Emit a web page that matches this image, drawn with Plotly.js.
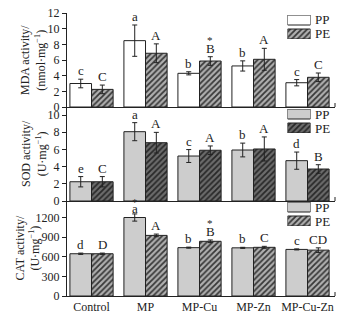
<!DOCTYPE html>
<html><head><meta charset="utf-8">
<script src="https://cdn.plot.ly/plotly-3.0.1.min.js"></script>
<style>html,body{margin:0;padding:0;background:#fff}#chart{width:344px;height:319px}</style>
</head><body><div id="chart"></div>
<script>
const categories = ['Control','MP','MP-Cu','MP-Zn','MP-Cu-Zn'];
const seriesNames = ['PP','PE'];

const mdaPP = [3.0, 8.47, 4.3, 5.24, 3.1];
const mdaPPerr = [0.55, 2.0, 0.2, 0.65, 0.4];
const mdaPE = [2.25, 6.86, 5.87, 6.09, 3.79];
const mdaPEerr = [0.55, 1.2, 0.55, 1.4, 0.55];

const sodPP = [2.24, 8.06, 5.23, 5.93, 4.69];
const sodPPerr = [0.6, 1.05, 0.75, 0.8, 1.0];
const sodPE = [2.24, 6.78, 5.9, 6.05, 3.72];
const sodPEerr = [0.6, 1.2, 0.5, 1.4, 0.5];

const catPP = [645, 1198, 738, 735, 711];
const catPPerr = [10, 55, 8, 8, 8];
const catPE = [645, 925, 835, 743, 700];
const catPEerr = [10, 20, 20, 15, 35];

const mdaPPlab = ['c','a','b','b','c'];
const mdaPElab = ['C','A','B','A','C'];
const sodPPlab = ['e','a','c','b','d'];
const sodPElab = ['C','A','A','A','B'];
const catPPlab = ['d','a','b','b','c'];
const catPElab = ['D','A','B','C','CD'];

const mdaPPstar = ['','','','',''];
const mdaPEstar = ['','','*','',''];
const sodPPstar = ['','','','',''];
const sodPEstar = ['','','','',''];
const catPPstar = ['','*','','',''];
const catPEstar = ['','','*','',''];

const yTitles = ['MDA activity/<br>(nmol·mg<sup>−1</sup>)', 'SOD activity/<br>(U·mg<sup>−1</sup>)', 'CAT activity/<br>(U·mg<sup>−1</sup>)'];

const FONT = 'Liberation Serif, Times New Roman, serif';
const INK = '#222';

const panels = [
  {pp: mdaPP, ppe: mdaPPerr, pe: mdaPE, pee: mdaPEerr, ppl: mdaPPlab, pel: mdaPElab, pps: mdaPPstar, pes: mdaPEstar,
   ppColor: '#ffffff', peBg: '#b0b0b0', peFg: '#383838'},
  {pp: sodPP, ppe: sodPPerr, pe: sodPE, pee: sodPEerr, ppl: sodPPlab, pel: sodPElab, pps: sodPPstar, pes: sodPEstar,
   ppColor: '#cdcdcd', peBg: '#6c6c6c', peFg: '#282828'},
  {pp: catPP, ppe: catPPerr, pe: catPE, pee: catPEerr, ppl: catPPlab, pel: catPElab, pps: catPPstar, pes: catPEstar,
   ppColor: '#cdcdcd', peBg: '#b0b0b0', peFg: '#383838'}
];

// pixel layout helpers
const W = 344, H = 319, L = 67, R = 335, T = 13, B = 296;
const py = p => (B - p) / (B - T);
const px = p => (p - L) / (R - L);
const domains = [[py(107), 1], [py(201), py(107)], [0, py(201)]];
const ranges = [[0, 12], [0, 10.93], [0, 1450]];
const dticks = [2, 2, 300];
const legendTops = [15, 109, 202];
const titleShift = [-34, -33, -40];

const traces = [];
const annotations = [];
const shapes = [];
const layout = {
  width: W, height: H,
  margin: {l: L, r: W - R, t: T, b: H - B, pad: 0},
  paper_bgcolor: '#fff', plot_bgcolor: 'rgba(0,0,0,0)',
  font: {family: FONT, size: 12, color: INK},
  barmode: 'group', bargap: 0.2, bargroupgap: 0,
  showlegend: false
};

panels.forEach((p, k) => {
  const n = k + 1;
  const xa = n === 1 ? 'x' : 'x' + n;
  const ya = n === 1 ? 'y' : 'y' + n;
  const outline = {color: INK, width: 1};
  traces.push({
    type: 'bar', name: seriesNames[0], x: categories, y: p.pp, xaxis: xa, yaxis: ya,
    marker: {color: p.ppColor, line: outline},
    error_y: {type: 'data', array: p.ppe, visible: true, color: INK, thickness: 1, width: 2.5}
  });
  traces.push({
    type: 'bar', name: seriesNames[1], x: categories, y: p.pe, xaxis: xa, yaxis: ya,
    marker: {color: p.peBg, line: outline,
      pattern: {shape: '/', bgcolor: p.peBg, fgcolor: p.peFg, size: 4, solidity: 0.45}},
    error_y: {type: 'data', array: p.pee, visible: true, color: INK, thickness: 1, width: 2.5}
  });
  layout[n === 1 ? 'xaxis' : 'xaxis' + n] = {
    domain: [0, 1], anchor: ya, type: 'category', range: [-0.454, 4.509],
    showline: true, linecolor: INK, linewidth: 1, ticks: '', showgrid: false, zeroline: false,
    showticklabels: n === 3, tickfont: {family: FONT, size: 12, color: INK}, fixedrange: true
  };
  layout[n === 1 ? 'yaxis' : 'yaxis' + n] = {
    domain: domains[k], anchor: xa, range: ranges[k], dtick: dticks[k], tick0: 0,
    showline: true, linecolor: INK, linewidth: 1, ticks: 'outside', ticklen: 4, tickcolor: INK,
    showgrid: false, zeroline: false, tickfont: {family: FONT, size: 12, color: INK}, fixedrange: true
  };
  // letters
  categories.forEach((c, i) => {
    [[p.pp, p.ppe, p.ppl, p.pps, -0.2], [p.pe, p.pee, p.pel, p.pes, 0.2]].forEach(([v, e, lab, st, off]) => {
      const isOverlap = (k === 2 && off < 0 && i === 1);
      annotations.push({xref: xa, yref: ya, x: i + off, y: v[i] + e[i], text: lab[i], showarrow: false,
        xanchor: 'center', yanchor: 'bottom', yshift: isOverlap ? -4 : -1,
        font: {family: FONT, size: 13, color: INK}});
      if (st[i]) {
        annotations.push({xref: xa, yref: ya, x: i + off, y: v[i] + e[i], text: st[i], showarrow: false,
          xanchor: 'center', yanchor: 'bottom', yshift: isOverlap ? 4 : 9,
          font: {family: FONT, size: 11, color: INK}});
      }
    });
  });
  // y titles
  annotations.push({xref: 'paper', yref: 'paper', x: 0, xshift: titleShift[k], y: (domains[k][0] + domains[k][1]) / 2,
    text: yTitles[k], textangle: -90, showarrow: false, xanchor: 'center', yanchor: 'middle', align: 'center',
    font: {family: FONT, size: 12, color: INK}});
  // right end tick of x axis
  shapes.push({type: 'line', xref: 'paper', yref: 'paper', x0: 1, x1: 1,
    y0: domains[k][0], y1: domains[k][0] + 4 / (B - T), line: {color: INK, width: 1}});
  // legend boxes in own axes
  const lt = legendTops[k];
  const lx = n + 3;
  layout['xaxis' + lx] = {domain: [px(287.5), px(310.5)], range: [0, 1], visible: false, anchor: 'y' + lx, fixedrange: true};
  layout['yaxis' + lx] = {domain: [py(lt + 24), py(lt)], range: [-0.357, 1.357], visible: false, anchor: 'x' + lx, fixedrange: true};
  traces.push({type: 'bar', orientation: 'h', x: [1], y: [1], base: 0, width: [0.714], offset: -0.357,
    xaxis: 'x' + lx, yaxis: 'y' + lx, hoverinfo: 'skip',
    marker: {color: p.ppColor, line: {color: INK, width: 1}}});
  traces.push({type: 'bar', orientation: 'h', x: [1], y: [0], base: 0, width: [0.714], offset: -0.357,
    xaxis: 'x' + lx, yaxis: 'y' + lx, hoverinfo: 'skip',
    marker: {color: p.peBg, line: {color: INK, width: 1},
      pattern: {shape: '/', bgcolor: p.peBg, fgcolor: p.peFg, size: 4, solidity: 0.45}}});
  [[seriesNames[0], lt + 5], [seriesNames[1], lt + 19]].forEach(([t, yc]) => {
    annotations.push({xref: 'paper', yref: 'paper', x: px(313), y: py(yc), text: t, showarrow: false,
      xanchor: 'left', yanchor: 'middle', font: {family: FONT, size: 13, color: INK}});
  });
});

layout.annotations = annotations;
layout.shapes = shapes;
Plotly.newPlot('chart', traces, layout, {displayModeBar: false, staticPlot: true});
</script></body></html>
